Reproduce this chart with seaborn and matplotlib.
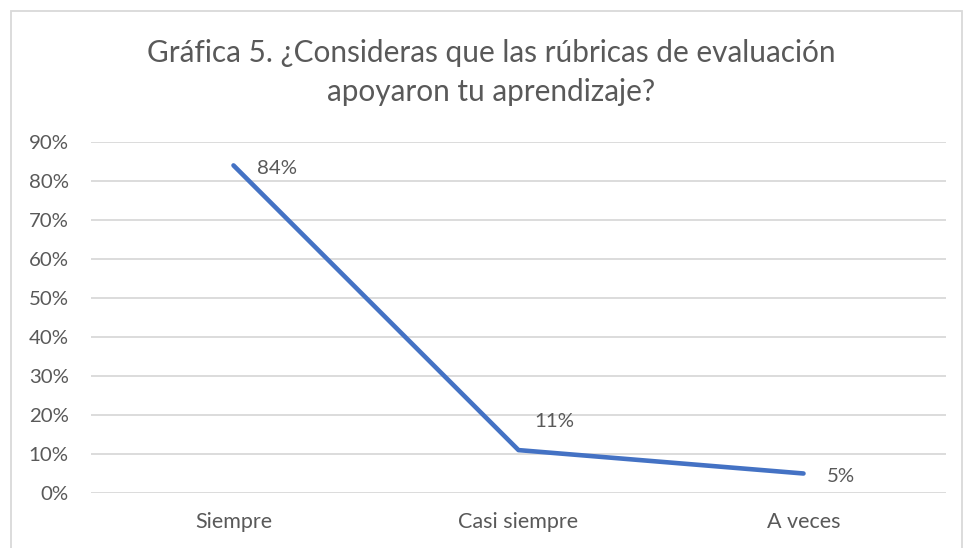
import matplotlib
matplotlib.use("Agg")
import matplotlib.pyplot as plt
import seaborn as sns
import pandas as pd
from matplotlib.patches import Rectangle

categories = ["Siempre", "Casi siempre", "A veces"]
values = [0.84, 0.11, 0.05]
value_labels = ["84%", "11%", "5%"]
yticks = [0.0, 0.1, 0.2, 0.3, 0.4, 0.5, 0.6, 0.7, 0.8, 0.9]
ytick_labels = ["0%", "10%", "20%", "30%", "40%", "50%", "60%", "70%", "80%", "90%"]
title = "Gráfica 5. ¿Consideras que las rúbricas de evaluación\napoyaron tu aprendizaje?"

sns.set_theme(style="white")
plt.rcParams["font.family"] = ["Lato", "DejaVu Sans"]

TXT = "#595959"
GRID = "#D9D9D9"
LINE = "#4472C4"

fig = plt.figure(figsize=(9.63, 5.48), dpi=100)
ax = fig.add_axes([91/963, 1-493/548, (946-91)/963, (493-142)/548])

df = pd.DataFrame({"cat": categories, "val": values})
sns.lineplot(data=df, x="cat", y="val", ax=ax, color=LINE, linewidth=3.3,
             sort=False, solid_capstyle="round")

ax.set_xlim(-0.5, 2.5)
ax.set_ylim(0, 0.9)
ax.set_yticks(yticks)
ax.set_yticklabels(ytick_labels)
ax.set_xlabel("")
ax.set_ylabel("")
for s in ax.spines.values():
    s.set_visible(False)
ax.grid(False)
for t in yticks:
    ax.axhline(t, color=GRID, linewidth=1.3, zorder=0)
ax.tick_params(axis="y", length=0, colors=TXT, labelsize=14.7, pad=16)
ax.tick_params(axis="x", length=0, colors=TXT, labelsize=15.5, pad=14)

offsets = [(24, -3), (16, 29), (23, -3)]
for i, (v, lab) in enumerate(zip(values, value_labels)):
    ax.annotate(lab, (i, v), xytext=offsets[i], textcoords="offset pixels",
                ha="left", va="center", color=TXT, fontsize=14.7)

fig.text(491.5/963, 1-72.5/548, title, ha="center", va="center", color=TXT,
         fontsize=21.4, linespacing=1.5)

fig.patches.append(Rectangle((10.5/963, -0.1), (962-10.5)/963, 1.1-11.5/548,
                             transform=fig.transFigure, fill=False,
                             edgecolor="#D9D9D9", linewidth=1.3))

fig.savefig("out.png", dpi=100, facecolor="white")
